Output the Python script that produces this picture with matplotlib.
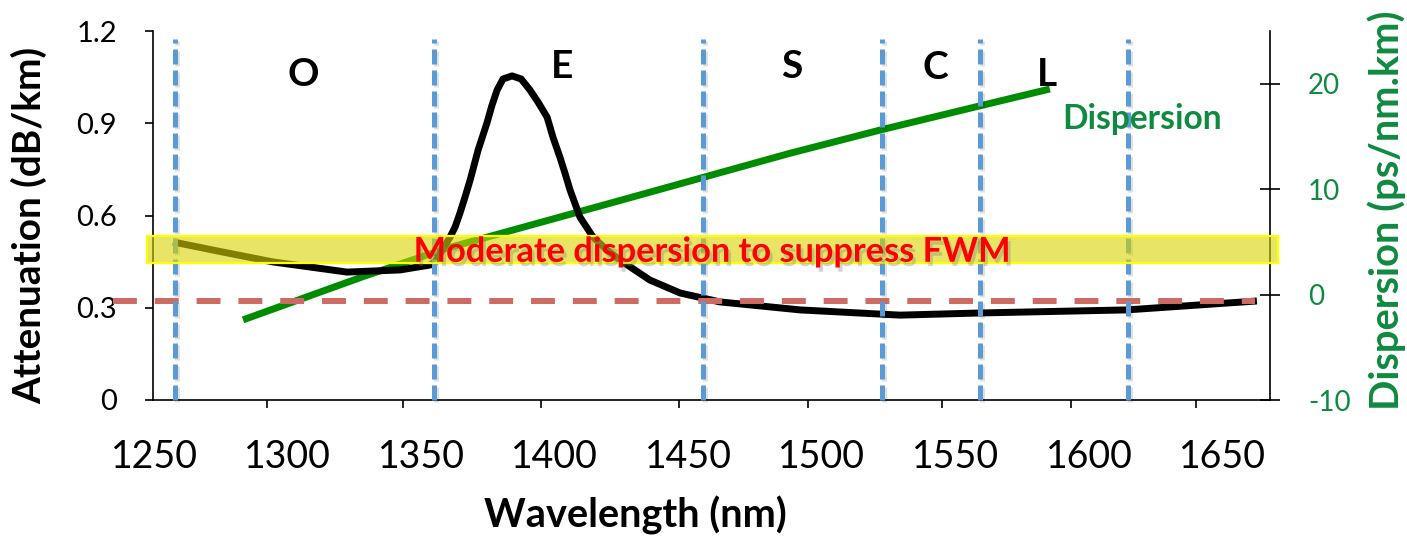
import matplotlib
matplotlib.use("Agg")
import matplotlib.pyplot as plt
import matplotlib.patheffects as pe
from matplotlib.patches import Rectangle

# ---------------- data ----------------
att_wl = [1257.1, 1275.8, 1294.5, 1322.2, 1342.1, 1353.3, 1355.2, 1360.8, 1362.7,
          1364.5, 1366.4, 1368.3, 1371.3, 1374.6, 1376.5, 1378.4, 1380.6, 1384.0,
          1387.4, 1390.7, 1393.7, 1397.1, 1399.3, 1401.9, 1403.8, 1405.7, 1409.4,
          1414.3, 1419.5, 1424.4, 1435.6, 1446.9, 1461.8, 1491.8, 1529.2, 1559.1,
          1614.1, 1662.8]
att_val = [0.514, 0.481, 0.449, 0.416, 0.423, 0.439, 0.449, 0.530, 0.563,
           0.608, 0.660, 0.715, 0.813, 0.901, 0.959, 1.008, 1.044, 1.054,
           1.044, 1.008, 0.969, 0.920, 0.855, 0.790, 0.738, 0.683, 0.595,
           0.530, 0.488, 0.455, 0.390, 0.348, 0.319, 0.293, 0.276, 0.283,
           0.293, 0.322]

disp_wl = [1283.3, 1328.2, 1359.7, 1425.5, 1488.0, 1521.7, 1559.1, 1585.3]
disp_val = [-2.4, 1.7, 4.4, 9.0, 13.4, 15.6, 17.9, 19.5]

band_names = ["O", "E", "S", "C", "L"]
band_label_wl = [1305.8, 1402.7, 1488.8, 1542.3, 1584.2]
band_label_att = [1.057, 1.083, 1.083, 1.080, 1.060]
band_edges = [1257.9, 1354.8, 1455.5, 1522.5, 1559.1, 1614.5]

zero_disp_att = 0.322
fwm_band = (0.4455, 0.5333)

x_tick_labels = [1250, 1300, 1350, 1400, 1450, 1500, 1550, 1600, 1650]
x_tick_marks = [1292.3, 1343.2, 1394.8, 1446.5, 1494.8, 1544.9, 1593.2, 1640.0]
left_ticks = [0, 0.3, 0.6, 0.9, 1.2]
left_tick_labels = ["0", "0.3", "0.6", "0.9", "1.2"]
right_ticks = [-10, 0, 10, 20]

# ---------------- style ----------------
FONT = ["Lato", "DejaVu Sans"]
plt.rcParams["font.family"] = FONT
GREEN_TXT = "#108a40"
GREEN_LINE = "#008c00"
BLUE = "#5b9bd5"
RED_DASH = "#cd6a62"

fig = plt.figure(figsize=(14.07, 5.36), dpi=100)
ax = fig.add_axes([153 / 1407, 1 - 400 / 536, (1270 - 153) / 1407, (400 - 31) / 536])
ax2 = ax.twinx()
ax.set_zorder(ax2.get_zorder() + 1)
ax.patch.set_visible(False)

ax.set_xlim(1249.6, 1667.7)
ax.set_ylim(0, 1.2)
ax2.set_ylim(-10, 25)

for s in ["top", "right"]:
    ax.spines[s].set_visible(False)
for s in ["top", "left", "bottom"]:
    ax2.spines[s].set_visible(False)
for s in ["left", "bottom"]:
    ax.spines[s].set_linewidth(1.2)
ax2.spines["right"].set_linewidth(1.2)

# x ticks
ax.set_xticks(x_tick_labels)
ax.set_xticklabels([str(v) for v in x_tick_labels])
ax.set_xticks(x_tick_marks, minor=True)
ax.tick_params(axis="x", which="major", length=0, pad=28, labelsize=27)
ax.tick_params(axis="x", which="minor", length=6, width=1.2, direction="out")
# left y ticks
ax.set_yticks(left_ticks)
ax.set_yticklabels(left_tick_labels)
ax.tick_params(axis="y", length=6, width=1.2, direction="out", pad=20, labelsize=21)
# right y ticks
ax2.set_yticks(right_ticks)
ax2.set_yticklabels([str(v) for v in right_ticks])
ax2.tick_params(axis="y", length=14.4, width=1.2, direction="inout", pad=20,
                labelsize=20, labelcolor=GREEN_TXT)

# dispersion curve (right axis)
ax2.plot(disp_wl, disp_val, color=GREEN_LINE, lw=5, solid_capstyle="butt",
         solid_joinstyle="round", zorder=2)

# attenuation curve
ax.plot(att_wl, att_val, color="black", lw=5, solid_capstyle="butt",
        solid_joinstyle="round", zorder=3)

# zero dispersion dashed line
ax.plot([1234.7, 1662.1], [zero_disp_att, zero_disp_att], color=RED_DASH, lw=4.3,
        dashes=(4, 3), clip_on=False, zorder=4, dash_capstyle="butt")

# band edges
for xe in band_edges:
    ax.plot([xe, xe], [0, 1.175], color=BLUE, lw=3.6, dashes=(3, 1.2),
            dash_capstyle="butt", zorder=5, clip_on=False,
            path_effects=[pe.SimpleLineShadow(offset=(1.5, -1.5), alpha=0.12),
                          pe.Normal()])

# band letters
for name, bx, by in zip(band_names, band_label_wl, band_label_att):
    ax.text(bx, by, name, fontsize=28, fontweight="bold", ha="center",
            va="center", zorder=6)

# FWM band box
rect = Rectangle((1247.4, fwm_band[0]), 1670.7 - 1247.4, fwm_band[1] - fwm_band[0],
                 facecolor="#d9d400", alpha=0.6, edgecolor="none", zorder=7,
                 clip_on=False)
ax.add_patch(rect)
rect_edge = Rectangle((1247.4, fwm_band[0]), 1670.7 - 1247.4, fwm_band[1] - fwm_band[0],
                      facecolor="none", edgecolor="#ffff00", lw=1.6, zorder=7.5,
                      clip_on=False)
ax.add_patch(rect_edge)

t_fwm = ax.text(1459.2, 0.4455 + 0.004, "Moderate dispersion to suppress FWM",
                color="#ff0000", fontsize=24, fontweight="bold", ha="center",
                va="baseline", zorder=8,
                path_effects=[pe.withSimplePatchShadow(offset=(2, -3), alpha=0.35,
                                                       shadow_rgbFace="gray")])

t_disp = ax.text(1619.8, 0.915, "Dispersion", color=GREEN_TXT, fontsize=20,
                 fontweight="bold", ha="center", va="center", zorder=6)

t_xl = fig.text(635 / 1407, 1 - 515 / 536, "Wavelength (nm)", fontsize=25,
                fontweight="bold", ha="center", va="center")
t_yl = fig.text(29 / 1407, 1 - 226 / 536, "Attenuation (dB/km)", fontsize=25,
                fontweight="bold", ha="center", va="center", rotation=90)
t_yr = fig.text(1387 / 1407, 1 - 210 / 536, "Dispersion (ps/nm.km)", fontsize=25,
                fontweight="bold", ha="center", va="center", rotation=90,
                color=GREEN_TXT)

# fit main texts to the measured extents
fig.canvas.draw()
r = fig.canvas.get_renderer()
for t, target, vertical in [(t_fwm, 597, False), (t_disp, 160, False),
                            (t_xl, 304, False), (t_yl, 358, True),
                            (t_yr, 400, True)]:
    bb = t.get_window_extent(r)
    cur = bb.height if vertical else bb.width
    t.set_fontsize(t.get_fontsize() * target / cur)

fig.savefig("out.png", dpi=100)
